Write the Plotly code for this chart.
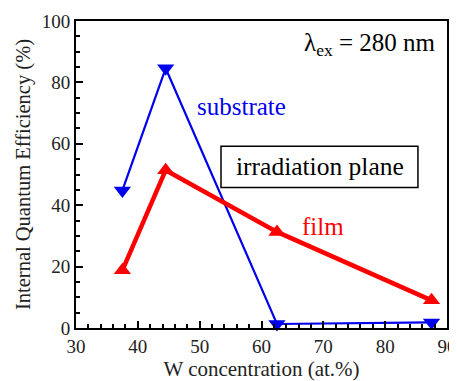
import plotly.graph_objects as go

w_conc = [37.5, 44.5, 62.5, 87.5]
substrate = [44.8, 84.6, 1.3, 1.8]
film = [18.8, 51.4, 31.3, 9.0]

font = "Liberation Serif, Times New Roman, serif"
tickfont = dict(family=font, size=19, color="#222")
fig = go.Figure()
fig.add_trace(go.Scatter(x=w_conc, y=substrate, mode="lines+markers",
                         line=dict(color="#0000ee", width=2.2),
                         marker=dict(symbol="triangle-down", size=15, color="#0000ee"),
                         cliponaxis=False, showlegend=False))
fig.add_trace(go.Scatter(x=w_conc, y=film, mode="lines+markers",
                         line=dict(color="#ff0000", width=4.5),
                         marker=dict(symbol="triangle-up", size=15, color="#ff0000"),
                         cliponaxis=False, showlegend=False))

fig.add_annotation(x=56.8, y=72.2, text="substrate", showarrow=False,
                   font=dict(family=font, size=25, color="#0000ee"))
fig.add_annotation(x=70, y=33, text="film", showarrow=False,
                   font=dict(family=font, size=25, color="#ff0000"))
fig.add_shape(type="rect", x0=53.45, x1=85.3, y0=45.8, y1=59.2,
              line=dict(color="black", width=1.5), fillcolor="white", layer="above")
fig.add_annotation(x=69.4, y=52.5, text="irradiation plane", showarrow=False,
                   font=dict(family=font, size=25.5, color="black"))
fig.add_annotation(x=88.5, y=92.5, xanchor="right", text="λ<sub>ex</sub> = 280 nm",
                   showarrow=False, font=dict(family=font, size=25, color="black"))

fig.update_layout(
    width=449, height=373,
    margin=dict(l=68, r=10, t=13, b=53),
    paper_bgcolor="white", plot_bgcolor="white",
    font=dict(family=font, size=19, color="#222"),
)
fig.update_xaxes(range=[30, 90], dtick=10, ticks="inside", ticklen=7, tickwidth=1.5,
                 showline=True, linewidth=2, linecolor="black", mirror=True,
                 showgrid=False, zeroline=False, tickfont=tickfont, automargin=False,
                 minor=dict(ticks="inside", dtick=2, ticklen=4, tickwidth=1.5, tickcolor="black"),
                 tickcolor="black",
                 title=dict(text="W concentration (at.%)", standoff=15,
                            font=dict(family=font, size=21, color="#222")))
fig.update_yaxes(range=[0, 100], dtick=20, ticks="inside", ticklen=7, tickwidth=1.5,
                 showline=True, linewidth=2, linecolor="black", mirror=True,
                 showgrid=False, zeroline=False, tickfont=tickfont, automargin=False,
                 minor=dict(ticks="inside", dtick=5, ticklen=4, tickwidth=1.5, tickcolor="black"),
                 tickcolor="black",
                 title=dict(text="Internal Quantum Efficiency (%)", standoff=6,
                            font=dict(family=font, size=20.5, color="#222")))

fig.write_html("out.html")
